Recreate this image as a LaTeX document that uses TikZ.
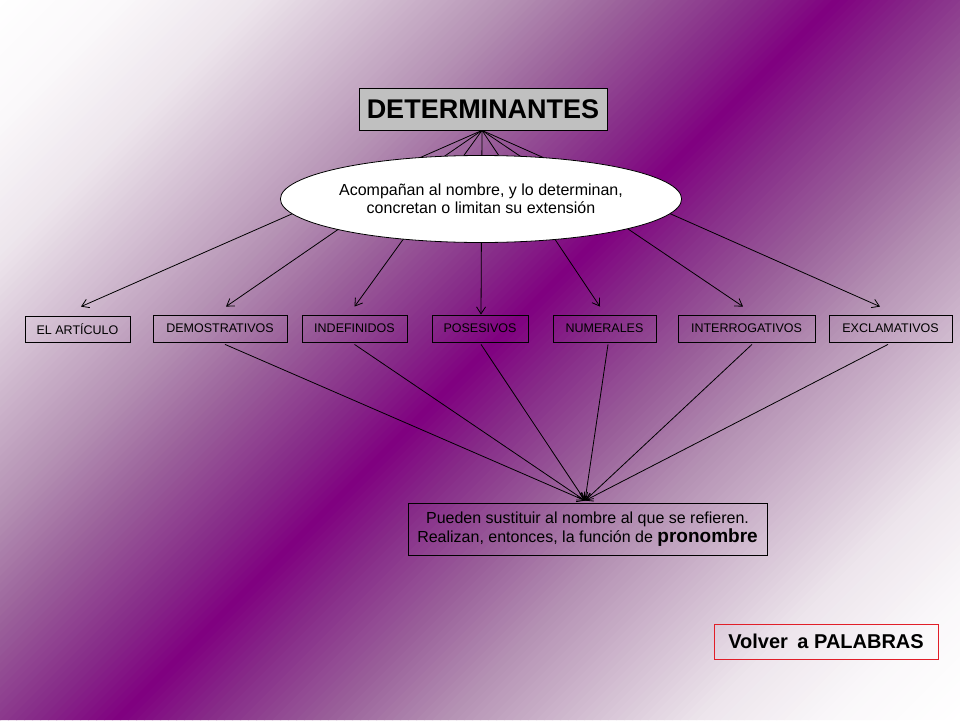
\documentclass[tikz,border=0pt]{standalone}
\usepackage{fontspec}
\setmainfont{Liberation Sans}
\usetikzlibrary{arrows.meta,shapes.geometric}
\definecolor{detgray}{RGB}{192,192,192}
\definecolor{redline}{RGB}{225,30,40}
% gradient stops (purple line -> white)
\definecolor{gsA}{RGB}{128,0,128}
\definecolor{gsB}{RGB}{134,42,136}
\definecolor{gsC}{RGB}{154,96,154}
\definecolor{gsD}{RGB}{181,146,180}
\definecolor{gsE}{RGB}{237,229,236}
\definecolor{gsF}{RGB}{250,248,250}
\definecolor{gsG}{RGB}{255,255,255}
\newcommand\bandseg[5]{% f, lo, hi, colLo, colHi
  \pgfmathsetmacro{\bandp}{100*(#1-#2)/(#3-#2)}%
  \xdef\bandcol{#5!\bandp!#4}}
\newcommand\bandpick[1]{%
  \ifdim#1pt<0.10pt \bandseg{#1}{0}{0.10}{gsA}{gsB}%
  \else\ifdim#1pt<0.25pt \bandseg{#1}{0.10}{0.25}{gsB}{gsC}%
  \else\ifdim#1pt<0.39pt \bandseg{#1}{0.25}{0.39}{gsC}{gsD}%
  \else\ifdim#1pt<0.69pt \bandseg{#1}{0.39}{0.69}{gsD}{gsE}%
  \else\ifdim#1pt<0.85pt \bandseg{#1}{0.69}{0.85}{gsE}{gsF}%
  \else \bandseg{#1}{0.85}{1.0001}{gsF}{gsG}%
  \fi\fi\fi\fi\fi}
\begin{document}
\begin{tikzpicture}[x=1pt,y=-1pt,
  catbox/.style={draw=black, line width=0.8pt, minimum height=27pt, inner sep=0pt,
    font=\fontsize{12.5}{14}\selectfont},
  arr/.style={-{Straight Barb[length=7pt,width=9pt]}, line width=0.8pt}]
\useasboundingbox (0,0) rectangle (960,720);
% background: diagonal white - purple - white
\begin{scope}
\clip (0,0) rectangle (960,720);
\foreach \i in {0,...,209} {
  \pgfmathsetmacro{\bandc}{\i*8}
  \pgfmathsetmacro{\bandf}{min(1,abs(\bandc+4-838)/842)}
  \bandpick{\bandf}
  \fill[color=\bandcol] (\bandc,0) -- (\bandc+9,0) -- (\bandc+9-720,720) -- (\bandc-720,720) -- cycle;
}
\end{scope}
% category boxes
\node[catbox, minimum width=105pt, minimum height=26pt] (art) at (77.5,329) {EL ARTÍCULO};
\node[catbox, minimum width=134pt] (dem) at (220,328.5) {DEMOSTRATIVOS};
\node[catbox, minimum width=105pt] (ind) at (354.5,328.5) {INDEFINIDOS};
\node[catbox, minimum width=96pt] (pos) at (480,328.5) {POSESIVOS};
\node[catbox, minimum width=103pt] (num) at (604.5,328.5) {NUMERALES};
\node[catbox, minimum width=137pt] (inte) at (746.5,328.5) {INTERROGATIVOS};
\node[catbox, minimum width=123pt] (exc) at (890.5,328.5) {EXCLAMATIVOS};
% bottom box
\node[draw=black, line width=0.8pt, minimum width=359pt, minimum height=52pt, inner sep=0pt,
  align=center, font=\fontsize{16}{19}\selectfont] (pron) at (587.5,529)
  {Pueden sustituir al nombre al que se refieren.\\Realizan, entonces, la función de {\bfseries\fontsize{19}{19}\selectfont pronombre}};
% top box
\node[draw=black, fill=detgray, line width=0.8pt, minimum width=248pt, minimum height=42pt, inner sep=0pt,
  font=\bfseries\fontsize{27}{30}\selectfont] (det) at (483,109) {DETERMINANTES};
% upper connectors
\draw[arr] ([xshift=-1pt]det.south) -- ([xshift=3.5pt,yshift=9pt]art.north);
\draw[arr] ([xshift=-1pt]det.south) -- ([xshift=6pt,yshift=8pt]dem.north);
\draw[arr] ([xshift=-1pt]det.south) -- ([yshift=8pt]ind.north);
\draw[arr] ([xshift=-1pt]det.south) -- ([xshift=1pt]pos.north);
\draw[arr] ([xshift=-1pt]det.south) -- ([xshift=-4.5pt,yshift=8pt]num.north);
\draw[arr] ([xshift=-1pt]det.south) -- ([xshift=-3.5pt,yshift=8pt]inte.north);
\draw[arr] ([xshift=-1pt]det.south) -- ([xshift=-10.5pt,yshift=8pt]exc.north);
% ellipse on top of the connectors
\node[ellipse, draw=black, fill=white, line width=0.8pt, minimum width=385pt, minimum height=87pt,
  inner sep=0pt, align=center, font=\fontsize{16}{18}\selectfont] (ell) at (481,199)
  {Acompañan al nombre, y lo determinan,\\concretan o limitan su extensión};
% lower connectors
\draw[arr] ([xshift=5pt,yshift=-2pt]dem.south) -- ([xshift=-2.5pt,yshift=2pt]pron.north);
\draw[arr] ([yshift=-2pt]ind.south) -- ([xshift=-2.5pt,yshift=2pt]pron.north);
\draw[arr] ([xshift=1pt,yshift=-2pt]pos.south) -- ([xshift=-2.5pt,yshift=2pt]pron.north);
\draw[arr] ([xshift=3.5pt,yshift=-2pt]num.south) -- ([xshift=-2.5pt,yshift=2pt]pron.north);
\draw[arr] ([xshift=5.5pt,yshift=-2pt]inte.south) -- ([xshift=-2.5pt,yshift=2pt]pron.north);
\draw[arr] ([xshift=-2.5pt,yshift=-2pt]exc.south) -- ([xshift=-2.5pt,yshift=2pt]pron.north);
% link box
\node[draw=redline, line width=0.8pt, minimum width=224pt, minimum height=35pt, inner sep=0pt,
  font=\bfseries\fontsize{20}{22}\selectfont] (volver) at (826,641.5) {Volver\hspace{4pt} a PALABRAS};
\end{tikzpicture}
\end{document}
